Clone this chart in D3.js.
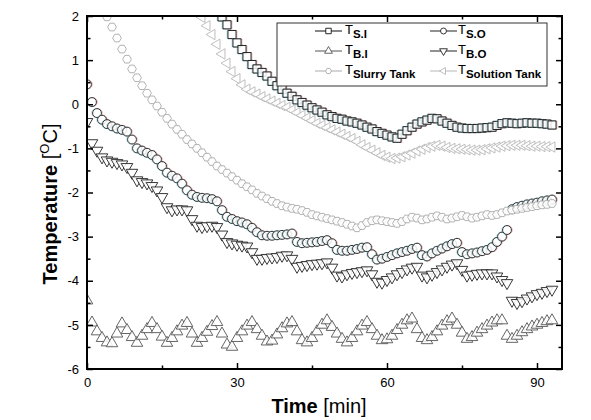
<!DOCTYPE html>
<html>
<head>
<meta charset="utf-8">
<script src="https://cdn.jsdelivr.net/npm/d3@7"></script>
<style>
  html, body { margin: 0; padding: 0; background: #fff; }
  svg { display: block; font-family: "Liberation Sans", Arial, sans-serif; }
</style>
</head>
<body>
<svg id="chart" width="591" height="420"></svg>
<script>
// sampling times [min]
const time = [
  0, 1, 2, 3, 4, 5, 6, 7, 8, 9,
  10, 11, 12, 13, 14, 15, 16, 17, 18, 19,
  20, 21, 22, 23, 24, 25, 26, 27, 28, 29,
  30, 31, 32, 33, 34, 35, 36, 37, 38, 39,
  40, 41, 42, 43, 44, 45, 46, 47, 48, 49,
  50, 51, 52, 53, 54, 55, 56, 57, 58, 59,
  60, 61, 62, 63, 64, 65, 66, 67, 68, 69,
  70, 71, 72, 73, 74, 75, 76, 77, 78, 79,
  80, 81, 82, 83, 84, 85, 86, 87, 88, 89,
  90, 91, 92, 93
];

// temperatures [C], null = off the chart
const tSI = [
  null, null, null, null, null, null, null, null, null, null,
  null, null, null, null, null, null, null, null, null, null,
  null, null, null, null, null, null, null, 1.98, 1.80, 1.58,
  1.39, 1.24, 1.08, 0.90, 0.80, 0.72, 0.64, 0.52, 0.42, 0.34,
  0.25, 0.18, 0.10, 0.04, -0.02, -0.08, -0.13, -0.18, -0.24, -0.28,
  -0.32, -0.34, -0.38, -0.40, -0.43, -0.47, -0.52, -0.56, -0.62, -0.66,
  -0.70, -0.74, -0.77, -0.68, -0.60, -0.52, -0.45, -0.40, -0.36, -0.32,
  -0.33, -0.38, -0.43, -0.48, -0.52, -0.54, -0.55, -0.55, -0.55, -0.54,
  -0.53, -0.52, -0.48, -0.44, -0.42, -0.43, -0.44, -0.43, -0.42, -0.43,
  -0.43, -0.44, -0.45, -0.47
];

const tSO = [
  0.45, 0.05, -0.20, -0.35, -0.45, -0.50, -0.55, -0.58, -0.62, -0.80,
  -1.00, -1.05, -1.10, -1.15, -1.25, -1.40, -1.55, -1.62, -1.68, -1.80,
  -1.95, -2.05, -2.10, -2.12, -2.13, -2.15, -2.20, -2.40, -2.55, -2.60,
  -2.65, -2.68, -2.72, -2.80, -2.90, -2.97, -2.98, -2.98, -2.97, -2.96,
  -2.95, -2.93, -3.12, -3.15, -3.14, -3.13, -3.12, -3.10, -3.08, -3.15,
  -3.30, -3.32, -3.32, -3.30, -3.28, -3.25, -3.24, -3.40, -3.52, -3.50,
  -3.46, -3.42, -3.38, -3.35, -3.32, -3.28, -3.25, -3.42, -3.45, -3.38,
  -3.32, -3.27, -3.22, -3.17, -3.14, -3.35, -3.40, -3.38, -3.36, -3.33,
  -3.30, -3.24, -3.12, -3.00, -2.85, -2.38, -2.33, -2.30, -2.27, -2.25,
  -2.23, -2.20, -2.18, -2.16
];

const tBI = [
  -4.45, -4.95, -5.15, -5.30, -5.40, -5.42, -5.20, -4.97, -5.12, -5.28,
  -5.41, -5.25, -5.10, -4.96, -5.10, -5.27, -5.41, -5.30, -5.15, -5.02,
  -4.96, -5.20, -5.41, -5.30, -5.16, -5.03, -4.94, -5.20, -5.45, -5.50,
  -5.30, -5.15, -5.02, -4.94, -5.10, -5.25, -5.38, -5.36, -5.22, -5.08,
  -4.97, -4.94, -5.15, -5.35, -5.40, -5.30, -5.15, -5.00, -4.90, -5.05,
  -5.20, -5.32, -5.40, -5.30, -5.15, -5.02, -4.94, -5.10, -5.25, -5.35,
  -5.33, -5.25, -5.12, -5.00, -4.90, -4.86, -5.10, -5.30, -5.35, -5.28,
  -5.15, -5.02, -4.92, -4.86, -5.00, -5.18, -5.32, -5.28, -5.18, -5.10,
  -5.02, -4.95, -4.90, -4.90, -5.25, -5.32, -5.25, -5.17, -5.10, -5.04,
  -5.00, -4.96, -4.92, -4.90
];

const tBO = [
  -0.40, -0.88, -1.05, -1.20, -1.27, -1.30, -1.33, -1.36, -1.42, -1.55,
  -1.72, -1.76, -1.79, -1.85, -1.95, -2.10, -2.33, -2.40, -2.38, -2.38,
  -2.40, -2.60, -2.75, -2.78, -2.76, -2.75, -2.78, -2.95, -3.12, -3.15,
  -3.18, -3.20, -3.22, -3.35, -3.50, -3.50, -3.48, -3.47, -3.46, -3.43,
  -3.42, -3.50, -3.68, -3.66, -3.64, -3.62, -3.61, -3.60, -3.58, -3.70,
  -3.88, -3.90, -3.85, -3.82, -3.80, -3.78, -3.76, -3.85, -4.02, -4.04,
  -3.98, -3.92, -3.85, -3.80, -3.74, -3.70, -3.68, -3.88, -3.92, -3.86,
  -3.80, -3.74, -3.68, -3.63, -3.60, -3.75, -3.88, -3.86, -3.84, -3.83,
  -3.83, -3.83, -3.90, -3.98, -4.05, -4.45, -4.50, -4.46, -4.40, -4.35,
  -4.30, -4.27, -4.23, -4.20
];

const tSlurry = [
  null, null, null, null, 1.98, 1.75, 1.50, 1.25, 1.02, 0.80,
  0.60, 0.42, 0.25, 0.10, -0.04, -0.18, -0.32, -0.45, -0.57, -0.68,
  -0.80, -0.90, -1.00, -1.10, -1.20, -1.30, -1.40, -1.48, -1.56, -1.64,
  -1.72, -1.80, -1.87, -1.94, -2.02, -2.08, -2.14, -2.20, -2.25, -2.30,
  -2.33, -2.36, -2.38, -2.41, -2.45, -2.50, -2.53, -2.56, -2.59, -2.62,
  -2.65, -2.68, -2.72, -2.76, -2.80, -2.75, -2.68, -2.64, -2.62, -2.64,
  -2.66, -2.68, -2.70, -2.66, -2.60, -2.56, -2.58, -2.62, -2.60, -2.56,
  -2.53, -2.56, -2.60, -2.58, -2.55, -2.52, -2.55, -2.58, -2.56, -2.53,
  -2.50, -2.52, -2.50, -2.46, -2.42, -2.40, -2.38, -2.36, -2.34, -2.32,
  -2.30, -2.28, -2.27, -2.25
];

const tSolution = [
  null, null, null, null, null, null, null, null, null, null,
  null, null, null, null, null, null, null, null, null, null,
  null, null, null, 1.97, 1.78, 1.58, 1.36, 1.14, 0.93, 0.74,
  0.58, 0.44, 0.34, 0.28, 0.23, 0.17, 0.12, 0.07, 0.02, -0.03,
  -0.07, -0.13, -0.19, -0.25, -0.31, -0.37, -0.43, -0.48, -0.53, -0.58,
  -0.63, -0.68, -0.73, -0.78, -0.84, -0.92, -0.98, -1.04, -1.10, -1.16,
  -1.20, -1.23, -1.22, -1.19, -1.15, -1.11, -1.06, -1.02, -0.98, -0.95,
  -0.93, -0.95, -0.98, -1.00, -1.01, -1.02, -1.03, -1.04, -1.04, -1.03,
  -1.01, -0.99, -0.97, -0.95, -0.94, -0.93, -0.93, -0.93, -0.94, -0.95,
  -0.95, -0.96, -0.96, -0.97
];

const xMajor = [0, 30, 60, 90];
const xMinor = [15, 45, 75];
const yMajor = [-6, -5, -4, -3, -2, -1, 0, 1, 2];
const yMinor = [-5.5, -4.5, -3.5, -2.5, -1.5, -0.5, 0.5, 1.5];

// origin style hexagon
const symbolHexagon = {
  draw(ctx, size) {
    const r = Math.sqrt(size * 2 / (3 * Math.sqrt(3)));
    for (let k = 0; k < 6; k++) {
      const a = Math.PI / 3 * k;
      const px = r * Math.cos(a), py = r * Math.sin(a);
      if (k === 0) ctx.moveTo(px, py); else ctx.lineTo(px, py);
    }
    ctx.closePath();
  }
};

const series = [
  { name: 'S.I', values: tSI, type: d3.symbolSquare, size: 66, rot: 0, color: '#111', fringe: true },
  { name: 'S.O', values: tSO, type: d3.symbolCircle, size: 62, rot: 0, color: '#222', fringe: true },
  { name: 'B.I', values: tBI, type: d3.symbolTriangle, size: 58, rot: 0, color: '#555', fringe: false },
  { name: 'B.O', values: tBO, type: d3.symbolTriangle, size: 58, rot: 180, color: '#222', fringe: false },
  { name: 'Slurry Tank', values: tSlurry, type: symbolHexagon, size: 50, rot: 0, color: '#aaa', fringe: false },
  { name: 'Solution Tank', values: tSolution, type: d3.symbolTriangle, size: 46, rot: -90, color: '#b8b8b8', fringe: false }
];

const svg = d3.select('#chart');
const plot = { left: 87, right: 562, top: 16, bottom: 369 };

const x = d3.scaleLinear().domain([0, 95]).range([plot.left, plot.right]);
const y = d3.scaleLinear().domain([-6, 2]).range([plot.bottom, plot.top]);

svg.append('defs').append('clipPath').attr('id', 'clip')
  .append('rect')
  .attr('x', plot.left).attr('y', plot.top)
  .attr('width', plot.right - plot.left).attr('height', plot.bottom - plot.top);

// markers
const marks = svg.append('g').attr('clip-path', 'url(#clip)');
series.forEach(s => {
  const pts = time.map((t, i) => [t, s.values[i]]).filter(d => d[1] != null);
  const sym = d3.symbol().type(s.type).size(s.size)();
  const g = marks.append('g').attr('class', 'series');
  const pt = g.selectAll('g').data(pts).join('g')
    .attr('transform', d => `translate(${x(d[0])},${y(d[1])})`);
  if (s.fringe) {
    pt.append('path').attr('d', sym)
      .attr('transform', `translate(0.8,0) rotate(${s.rot})`)
      .attr('fill', 'none').attr('stroke', '#d05050').attr('stroke-width', 1).attr('opacity', 0.45);
    pt.append('path').attr('d', sym)
      .attr('transform', `translate(-0.8,0) rotate(${s.rot})`)
      .attr('fill', 'none').attr('stroke', '#40b8c8').attr('stroke-width', 1).attr('opacity', 0.45);
  }
  pt.append('path').attr('d', sym)
    .attr('transform', `rotate(${s.rot})`)
    .attr('fill', '#fff').attr('fill-opacity', 0.85)
    .attr('stroke', s.color).attr('stroke-width', 0.9);
});

// axes with inward ticks
function styleAxis(g) {
  g.select('.domain').remove();
  g.selectAll('line').attr('stroke', '#000').attr('stroke-width', 1.5);
  g.selectAll('text').attr('fill', '#000').style('font-size', '13px')
    .style('font-family', '"Liberation Sans", Arial, sans-serif');
}
const fmt = d => String(d);
svg.append('g').attr('transform', `translate(0,${plot.bottom})`)
  .call(d3.axisBottom(x).tickValues(xMajor).tickSize(-6).tickPadding(9).tickFormat(fmt)).call(styleAxis);
svg.append('g').attr('transform', `translate(0,${plot.bottom})`)
  .call(d3.axisBottom(x).tickValues(xMinor).tickSize(-3.5).tickFormat('')).call(styleAxis);
svg.append('g').attr('transform', `translate(0,${plot.top})`)
  .call(d3.axisTop(x).tickValues(xMajor).tickSize(-6).tickFormat('')).call(styleAxis);
svg.append('g').attr('transform', `translate(0,${plot.top})`)
  .call(d3.axisTop(x).tickValues(xMinor).tickSize(-3.5).tickFormat('')).call(styleAxis);
svg.append('g').attr('transform', `translate(${plot.left},0)`)
  .call(d3.axisLeft(y).tickValues(yMajor).tickSize(-6).tickPadding(8).tickFormat(fmt)).call(styleAxis);
svg.append('g').attr('transform', `translate(${plot.left},0)`)
  .call(d3.axisLeft(y).tickValues(yMinor).tickSize(-3.5).tickFormat('')).call(styleAxis);
svg.append('g').attr('transform', `translate(${plot.right},0)`)
  .call(d3.axisRight(y).tickValues(yMajor).tickSize(-6).tickFormat('')).call(styleAxis);
svg.append('g').attr('transform', `translate(${plot.right},0)`)
  .call(d3.axisRight(y).tickValues(yMinor).tickSize(-3.5).tickFormat('')).call(styleAxis);

svg.append('rect')
  .attr('x', plot.left).attr('y', plot.top)
  .attr('width', plot.right - plot.left).attr('height', plot.bottom - plot.top)
  .attr('fill', 'none').attr('stroke', '#000').attr('stroke-width', 2);

// axis titles
const xt = svg.append('text').attr('x', 319).attr('y', 413)
  .attr('text-anchor', 'middle').style('font-size', '20px');
xt.append('tspan').attr('font-weight', 'bold').text('Time ');
xt.append('tspan').text('[min]');

const yt = svg.append('text')
  .attr('transform', 'translate(57,204) rotate(-90)')
  .attr('text-anchor', 'middle').style('font-size', '20px');
yt.append('tspan').attr('font-weight', 'bold').text('Temperature ');
yt.append('tspan').text('[');
yt.append('tspan').attr('dy', -8).style('font-size', '13px').text('O');
yt.append('tspan').attr('dy', 8).text('C]');

// legend
const legend = svg.append('g');
legend.append('rect')
  .attr('x', 277).attr('y', 23).attr('width', 270).attr('height', 63)
  .attr('fill', '#fff').attr('stroke', '#333').attr('stroke-width', 1);

const legendCols = [315, 430];
const legendText = [345, 458];
series.forEach((s, i) => {
  const col = i % 2, row = Math.floor(i / 2);
  const ly = 31 + row * 20;
  const lx = legendCols[col];
  legend.append('line')
    .attr('x1', lx).attr('x2', lx + 27).attr('y1', ly).attr('y2', ly)
    .attr('stroke', s.color).attr('stroke-width', 1);
  legend.append('path')
    .attr('d', d3.symbol().type(s.type).size(s.size * 0.45)())
    .attr('transform', `translate(${lx + 13.5},${ly}) rotate(${s.rot})`)
    .attr('fill', '#fff').attr('stroke', s.color).attr('stroke-width', 0.9);
  const txt = legend.append('text')
    .attr('x', legendText[col]).attr('y', ly + 3)
    .style('font-size', '13px');
  txt.append('tspan').text('T');
  txt.append('tspan').attr('dy', 4).attr('font-weight', 'bold').style('font-size', '11.5px').text(s.name);
});
</script>
</body>
</html>
